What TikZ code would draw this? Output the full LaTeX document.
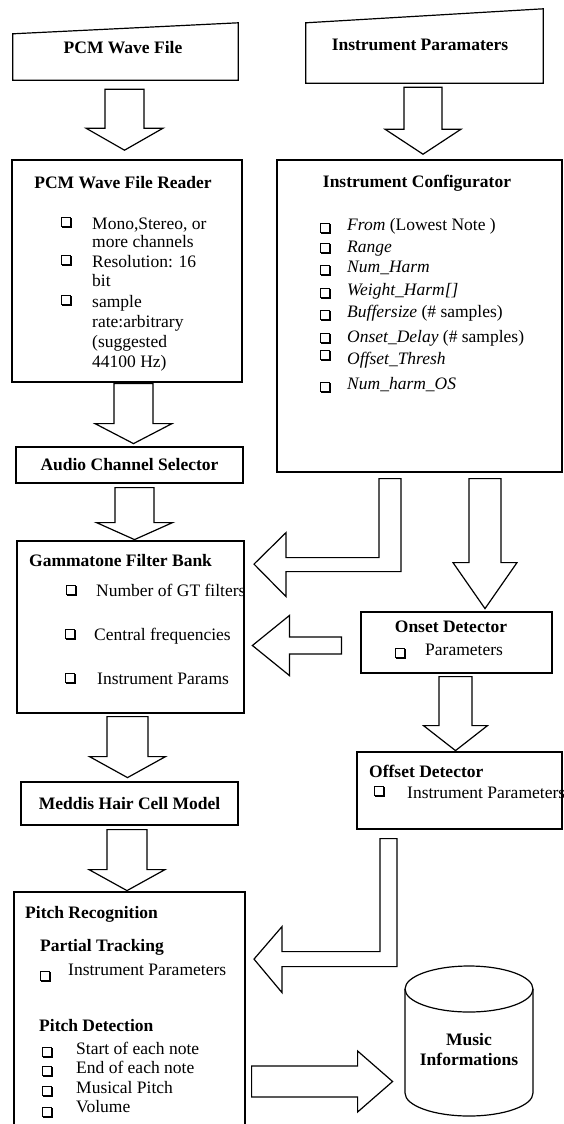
\documentclass[tikz,border=0pt]{standalone}
\usepackage{fontspec}
\setmainfont{Liberation Serif}
\usetikzlibrary{calc}

% block arrows: start, half shaft, half head, length, head length
\newcommand{\fatdown}[5]{\draw[fat] (#1) ++(-#2,0) -- ++(2*#2,0) -- ++(0,#4-#5) -- ++(#3-#2,0)
  -- ++(-#3,#5) -- ++(-#3,-#5) -- ++(#3-#2,0) -- cycle;}
\newcommand{\fatleft}[5]{\draw[fat] (#1) ++(0,-#2) -- ++(0,2*#2) -- ++(-#4+#5,0) -- ++(0,#3-#2)
  -- ++(-#5,-#3) -- ++(#5,-#3) -- ++(0,#3-#2) -- cycle;}
\newcommand{\fatright}[5]{\draw[fat] (#1) ++(0,-#2) -- ++(0,2*#2) -- ++(#4-#5,0) -- ++(0,#3-#2)
  -- ++(#5,-#3) -- ++(-#5,-#3) -- ++(0,#3-#2) -- cycle;}

\tikzset{sqbul/.pic={
  \draw[line width=0.8pt] (-5,-5) rectangle (4,4);
  \draw[line width=2pt] (-4,5) -- (5,5) -- (5,-4);}}

\begin{document}
\begin{tikzpicture}[x=1pt,y=-1pt,
  box/.style={draw, line width=1.2pt, inner sep=0},
  ttl/.style={font=\fontsize{17.5}{20}\selectfont\bfseries, inner sep=0},
  txt/.style={font=\fontsize{17.5}{20}\selectfont, anchor=west, inner sep=0, text height=12pt, text depth=3.5pt},
  fat/.style={draw, line width=1.2pt, line join=miter}]

\useasboundingbox (0,0) rectangle (563,1124);
\clip (0,0) rectangle (563,1124);

% inputs
\node[inner sep=0, minimum width=225, minimum height=57] (pcm) at (125.5,51.5) {};
\draw[line width=1.2pt] ($(pcm.north west)+(0,11)$) -- (pcm.north east) -- (pcm.south east) -- (pcm.south west) -- cycle;
\node[ttl] (pcmt) at (123,48) {PCM Wave File};

\node[inner sep=0, minimum width=237, minimum height=74] (ip) at (424.5,46) {};
\draw[line width=1.2pt] ($(ip.north west)+(0,14)$) -- (ip.north east) -- (ip.south east) -- (ip.south west) -- cycle;
\node[ttl] (ipt) at (420,45) {Instrument Paramaters};

% boxes
\node[box, minimum width=230, minimum height=222] (reader) at (127,271) {};
\node[box, minimum width=285, minimum height=312] (config) at (419.5,316) {};
\node[box, minimum width=227, minimum height=36, ttl] (audio) at (129.5,465) {Audio Channel Selector};
\node[box, minimum width=227, minimum height=172] (gamma) at (130.5,627) {};
\node[box, minimum width=191, minimum height=61] (onset) at (456.5,642.5) {};
\node[box, minimum width=205, minimum height=77] (offset) at (459.5,790.5) {};
\node[box, minimum width=217, minimum height=43, ttl] (meddis) at (129.5,803.5) {Meddis Hair Cell Model};
\node[box, minimum width=231, minimum height=250] (pitch) at (129.5,1017) {};

% reader
\node[ttl] (rdt) at (123,183) {PCM Wave File Reader};
\foreach \yy/\tx [count=\i] in {225/{Mono,Stereo, or}, 243/more channels, 263/{Resolution: 16}, 282/bit,
    303/sample, 323/rate:arbitrary, 343/(suggested, 363/44100 Hz)}
  \node[txt] (rd\i) at (92,\yy) {\tx};
\foreach \yy in {222,260,300} \pic at (66,\yy) {sqbul};

% configurator
\node[ttl] (cft) at (417,183) {Instrument Configurator};
\foreach \yy/\tx [count=\i] in {226/{\textit{From} (Lowest Note )}, 248/\textit{Range}, 268/\textit{Num\_Harm},
    291/\textit{Weight\_Harm[]}, 313/{\textit{Buffersize} (\# samples)}, 338/{\textit{Onset\_Delay} (\# samples)},
    360/\textit{Offset\_Thresh}, 385/\textit{Num\_harm\_OS}}
  \node[txt] (cf\i) at (347,\yy) {\tx};
\foreach \yy in {228,248,270,293,315,338,355,387} \pic at (325,\yy) {sqbul};

% gammatone
\node[ttl, anchor=west] (gmt) at (29,561) {Gammatone Filter Bank};
\node[txt] (gm1) at (96,592) {Number of GT filters};
\node[txt] (gm2) at (94,636) {Central frequencies};
\node[txt] (gm3) at (97,680) {Instrument Params};
\pic at (71,590) {sqbul};
\pic at (70,634) {sqbul};
\pic at (70,678) {sqbul};

% onset / offset
\node[ttl] (ont) at (451,627) {Onset Detector};
\node[txt] (on1) at (425,651) {Parameters};
\pic at (400,653) {sqbul};
\node[ttl, anchor=west] (oft) at (369,771) {Offset Detector};
\node[txt] (of1) at (407,794) {Instrument Parameters};
\pic at (379,791) {sqbul};

% pitch recognition
\node[ttl, anchor=west] (prt) at (25,914) {Pitch Recognition};
\node[ttl, anchor=west] (ptt) at (40,947) {Partial Tracking};
\node[txt] (pt1) at (68,971) {Instrument Parameters};
\pic at (45,976) {sqbul};
\node[ttl, anchor=west] (pdt) at (39,1026) {Pitch Detection};
\foreach \yy/\tx [count=\i] in {1050/Start of each note, 1069/End of each note, 1089/Musical Pitch, 1108/Volume}
  \node[txt] (pd\i) at (76,\yy) {\tx};
\foreach \yy in {1052,1071,1091,1112} \pic at (47,\yy) {sqbul};

% music informations
\draw[line width=1.2pt] (469,989) ellipse [x radius=64, y radius=23];
\draw[line width=1.2pt] (405,989) -- (405,1093) arc[start angle=180, end angle=0, x radius=64, y radius=23] -- (533,989);
\node[ttl, align=center] (music) at (469,1050) {Music\\Informations};

% arrows
\coordinate (a1) at ($(124.5,0 |- pcm.south)+(0,9)$);
\coordinate (a2) at ($(423,0 |- ip.south)+(0,4)$);
\coordinate (a3) at ($(133.5,0 |- reader.south)+(0,1)$);
\coordinate (a4) at ($(134.5,0 |- audio.south)+(0,4)$);
\coordinate (a5) at ($(127.5,0 |- gamma.south)+(0,3)$);
\coordinate (a6) at ($(127,0 |- meddis.south)+(0,4)$);
\coordinate (h1) at ($(485,0 |- config.south)+(0,6)$);
\coordinate (c1) at ($(455.5,0 |- onset.south)+(0,3)$);
\fatdown{a1}{19.5}{38.5}{61}{22}
\fatdown{a2}{19}{38}{67}{25}
\fatdown{a3}{19.5}{38.5}{60}{20}
\fatdown{a4}{19.5}{38}{52}{17}
\fatdown{a5}{20.5}{38}{61}{21}
\fatdown{a6}{20}{38}{61}{21}
\fatdown{h1}{16}{32}{130}{46}
\fatdown{c1}{16.5}{32}{74}{25}

\coordinate (b2) at ($(onset.west)+(-19,3)$);
\fatleft{b2}{8.5}{30}{89}{37}
\coordinate (g1) at ($(pitch.east |- 0,1081.5)+(6,0)$);
\fatright{g1}{15.5}{30.5}{141}{35}

\coordinate (b1) at ($(390,0 |- config.south)+(0,6)$);
\draw[fat] (b1) ++(-11,0) -- ++(22,0) -- ++(0,93) -- ++(-115,0) -- ++(0,25) -- ++(-32,-32.5)
  -- ++(32,-31.5) -- ++(0,25) -- ++(93,0) -- cycle;
\coordinate (f1) at ($(388.5,0 |- offset.south)+(0,9)$);
\draw[fat] (f1) ++(-8.5,0) -- ++(17,0) -- ++(0,128) -- ++(-115,0) -- ++(0,26) -- ++(-28,-33.5)
  -- ++(28,-32.5) -- ++(0,25) -- ++(98,0) -- cycle;

\end{tikzpicture}
\end{document}
